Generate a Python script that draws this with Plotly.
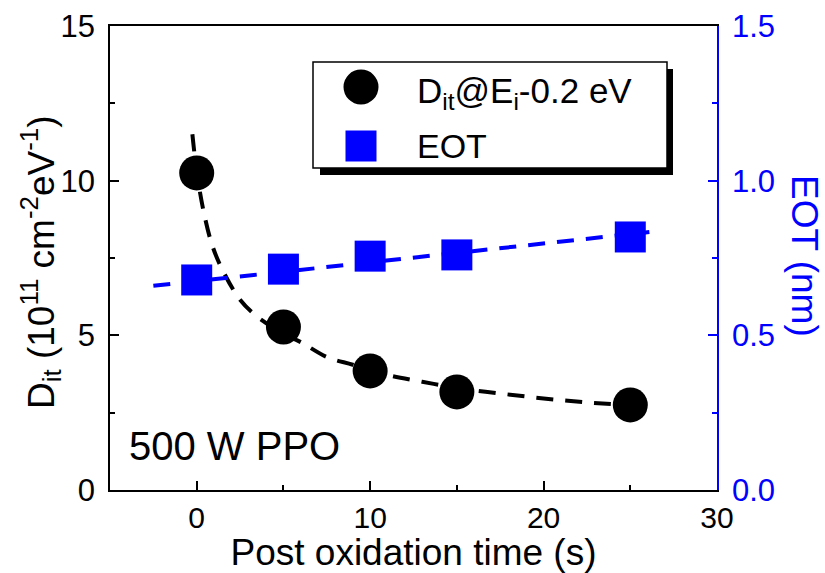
import plotly.graph_objects as go

# ---- data ----
time_s = [0, 5, 10, 15, 25]
dit_vals = [10.25, 5.27, 3.85, 3.17, 2.75]
eot_vals = [0.679, 0.714, 0.756, 0.760, 0.818]

dit_fit_t = [-0.25, 0.0, 0.4, 0.9, 1.5, 2.5, 3.5, 5.0, 6.0, 7.5, 9.0, 11.0, 13.0, 15.0, 17.5, 20.0, 22.5, 25.0]
dit_fit_v = [11.5, 10.3, 9.0, 7.9, 7.1, 6.15, 5.6, 5.05, 4.78, 4.3, 4.05, 3.72, 3.5, 3.3, 3.12, 2.96, 2.83, 2.74]

eot_fit_t = [-2.5, 26.1]
eot_fit_v = [0.660, 0.834]

x_ticks = [0, 10, 20, 30]
y1_ticks = [0, 5, 10, 15]
y2_ticks = [0.0, 0.5, 1.0, 1.5]

FONT = "Liberation Sans"
BLUE = "#0000FF"

fig = go.Figure()

fig.add_trace(go.Scatter(x=dit_fit_t, y=dit_fit_v, mode="lines", line=dict(color="black", width=4, dash="17px,12px", shape="spline"),
                         showlegend=False, hoverinfo="skip"))
fig.add_trace(go.Scatter(x=eot_fit_t, y=eot_fit_v, mode="lines", yaxis="y2", line=dict(color=BLUE, width=4, dash="17px,12px"),
                         showlegend=False, hoverinfo="skip"))
fig.add_trace(go.Scatter(x=time_s, y=dit_vals, mode="markers", name="Dit@Ei-0.2 eV",
                         marker=dict(symbol="circle", size=35, color="black", line=dict(width=0)), showlegend=False))
fig.add_trace(go.Scatter(x=time_s, y=eot_vals, mode="markers", name="EOT", yaxis="y2",
                         marker=dict(symbol="square", size=31, color=BLUE, line=dict(width=0)), showlegend=False))

# legend drawn by hand (big markers + shadow)
def px_x(px):
    return (px - 110) / 607

def px_y(py):
    return (490 - py) / 464

shapes = [
    dict(type="rect", xref="paper", yref="paper", x0=px_x(320), x1=px_x(673), y0=px_y(175), y1=px_y(69),
         fillcolor="black", line=dict(width=0), layer="above"),
    dict(type="rect", xref="paper", yref="paper", x0=px_x(313), x1=px_x(667), y0=px_y(168), y1=px_y(62),
         fillcolor="white", line=dict(color="black", width=1.5), layer="above"),
    dict(type="circle", xref="paper", yref="paper", x0=px_x(343.5), x1=px_x(378.5), y0=px_y(104.5), y1=px_y(69.5),
         fillcolor="black", line=dict(width=0), layer="above"),
    dict(type="rect", xref="paper", yref="paper", x0=px_x(345.5), x1=px_x(376.5), y0=px_y(161.5), y1=px_y(130.5),
         fillcolor=BLUE, line=dict(width=0), layer="above"),
]

annotations = [
    dict(text="D<sub>it</sub>@E<sub>i</sub>-0.2 eV", xref="paper", yref="paper", x=px_x(415), y=px_y(93),
         xanchor="left", yanchor="middle", showarrow=False, font=dict(family=FONT, size=35, color="black")),
    dict(text="EOT", xref="paper", yref="paper", x=px_x(415), y=px_y(146),
         xanchor="left", yanchor="middle", showarrow=False, font=dict(family=FONT, size=34, color="black")),
    dict(text="500 W PPO", xref="paper", yref="paper", x=px_x(127), y=px_y(446),
         xanchor="left", yanchor="middle", showarrow=False, font=dict(family=FONT, size=40, color="black")),
    dict(text="D<sub>it</sub> (10<sup>11</sup> cm<sup>-2</sup>eV<sup>-1</sup>)", xref="paper", yref="paper",
         x=px_x(40), y=px_y(262), xanchor="center", yanchor="middle", textangle=-90, showarrow=False,
         font=dict(family=FONT, size=37, color="black")),
    dict(text="EOT (nm)", xref="paper", yref="paper",
         x=px_x(805), y=px_y(256), xanchor="center", yanchor="middle", textangle=90, showarrow=False,
         font=dict(family=FONT, size=37, color=BLUE)),
]

fig.update_layout(
    width=825, height=573,
    margin=dict(l=110, r=108, t=26, b=83, autoexpand=False),
    paper_bgcolor="white", plot_bgcolor="white",
    font=dict(family=FONT, color="black"),
    shapes=shapes, annotations=annotations,
    xaxis=dict(range=[-5, 30], tickvals=x_ticks, ticktext=[str(v) for v in x_ticks],
               ticks="inside", ticklen=9, tickwidth=1.5, tickcolor="black",
               minor=dict(tickvals=[-5, 5, 15, 25], ticks="inside", ticklen=5, tickwidth=1.5, tickcolor="black"),
               showline=True, linecolor="black", linewidth=1.5, mirror=True,
               showgrid=False, zeroline=False, tickfont=dict(family=FONT, size=30, color="black"),
               ticklabelstandoff=0,
               title=dict(text="Post oxidation time (s)", font=dict(family=FONT, size=37, color="black"), standoff=4),
               automargin=False),
    yaxis=dict(range=[0, 15], tickvals=y1_ticks, ticktext=[str(v) for v in y1_ticks],
               ticks="inside", ticklen=9, tickwidth=1.5, tickcolor="black",
               minor=dict(tickvals=[2.5, 7.5, 12.5], ticks="inside", ticklen=5, tickwidth=1.5, tickcolor="black"),
               showline=True, linecolor="black", linewidth=1.5,
               showgrid=False, zeroline=False, tickfont=dict(family=FONT, size=31, color="black"),
               ticklabelstandoff=7, automargin=False),
    yaxis2=dict(range=[0, 1.5], overlaying="y", side="right", tickvals=y2_ticks,
                ticktext=["%.1f" % v for v in y2_ticks],
                ticks="inside", ticklen=9, tickwidth=1.5, tickcolor=BLUE,
                minor=dict(tickvals=[0.25, 0.75, 1.25], ticks="inside", ticklen=5, tickwidth=1.5, tickcolor=BLUE),
                showline=True, linecolor=BLUE, linewidth=1.5,
                showgrid=False, zeroline=False, tickfont=dict(family=FONT, size=31, color=BLUE),
                ticklabelstandoff=7, automargin=False),
)

fig.write_html("out.html")
